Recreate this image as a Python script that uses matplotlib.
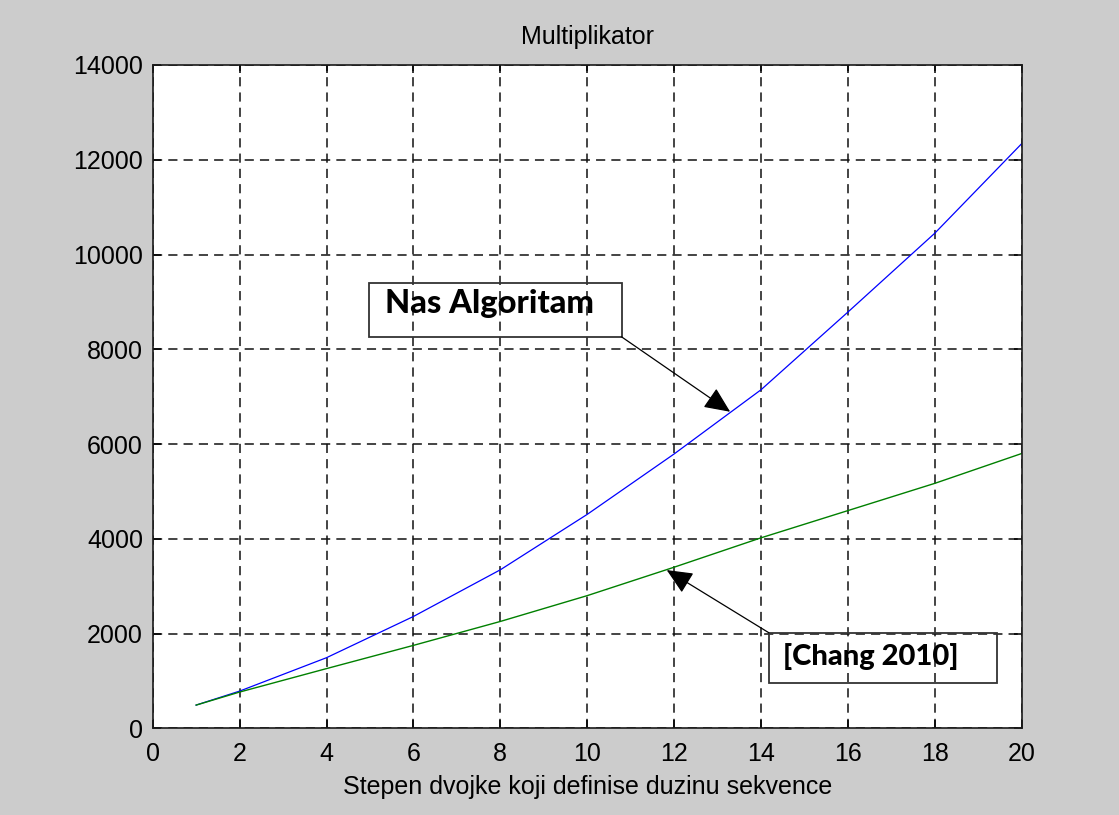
import matplotlib
matplotlib.use('Agg')
import matplotlib.pyplot as plt
from matplotlib.patches import Rectangle

# stepen dvojke (x) and multiplier counts
stepen = [1, 2, 4, 6, 8, 10, 12, 14, 16, 18, 20]
nas_algoritam = [490, 785, 1490, 2360, 3345, 4515, 5790, 7145, 8785, 10450, 12340]
chang_2010 = [490, 765, 1260, 1750, 2255, 2800, 3400, 4020, 4595, 5170, 5800]

x_ticks = list(range(0, 21, 2))
y_ticks = list(range(0, 14001, 2000))

plt.rcParams['font.family'] = ['Liberation Sans', 'DejaVu Sans']

fig = plt.figure(figsize=(11.19, 8.15), dpi=100, facecolor='#cccccc')
ax = fig.add_axes([152.7 / 1119, 1 - 728.3 / 815, (1021.7 - 152.7) / 1119, (728.3 - 65) / 815])
ax.set_facecolor('white')

ax.plot(stepen, nas_algoritam, color='#0000ff', lw=0.9)
ax.plot(stepen, chang_2010, color='#008000', lw=1.0)

ax.set_xlim(0, 20)
ax.set_ylim(0, 14000)
ax.set_xticks(x_ticks)
ax.set_yticks(y_ticks)
ax.tick_params(direction='in', length=6, width=1.1, top=True, right=True,
               labelsize=18, colors='black')
ax.tick_params(axis='x', pad=10)
ax.tick_params(axis='y', pad=7)
for s in ax.spines.values():
    s.set_linewidth(1.2)
    s.set_color('#1a1a1a')

ax.grid(True, color='#111111', lw=1.1, linestyle=(0, (6, 4)))
ax.set_axisbelow(True)

ax.set_title('Multiplikator', fontsize=18, pad=15)
ax.set_xlabel('Stepen dvojke koji definise duzinu sekvence', fontsize=18, labelpad=6)

# annotation boxes
ann_font = ['Lato', 'DejaVu Sans']
ax.add_patch(Rectangle((4.98, 8263), 10.79 - 4.98, 9402 - 8263, fill=False,
                       ec='#333333', lw=1.3, zorder=5))
ax.text(5.35, 8763, 'Nas Algoritam', fontsize=23.5, fontweight=900,
        family=ann_font, ha='left', va='baseline', zorder=6)
ax.annotate('', xy=(13.29, 6681), xytext=(10.79, 8263),
            arrowprops=dict(arrowstyle='-|>,head_length=1.0,head_width=0.45',
                            color='black', lw=0.9, mutation_scale=16,
                            shrinkA=0, shrinkB=0), zorder=6)

ax.add_patch(Rectangle((14.18, 950), 19.44 - 14.18, 2017 - 950, fill=False,
                       ec='#333333', lw=1.3, zorder=5, clip_on=False))
ax.text(14.5, 1336, '[Chang 2010]', fontsize=21, fontweight=900,
        family=ann_font, ha='left', va='baseline', zorder=6)
ax.annotate('', xy=(11.83, 3340), xytext=(14.18, 2017),
            arrowprops=dict(arrowstyle='-|>,head_length=1.0,head_width=0.45',
                            color='black', lw=0.9, mutation_scale=16,
                            shrinkA=0, shrinkB=0), zorder=6)

fig.savefig('out.png', dpi=100, facecolor=fig.get_facecolor())
